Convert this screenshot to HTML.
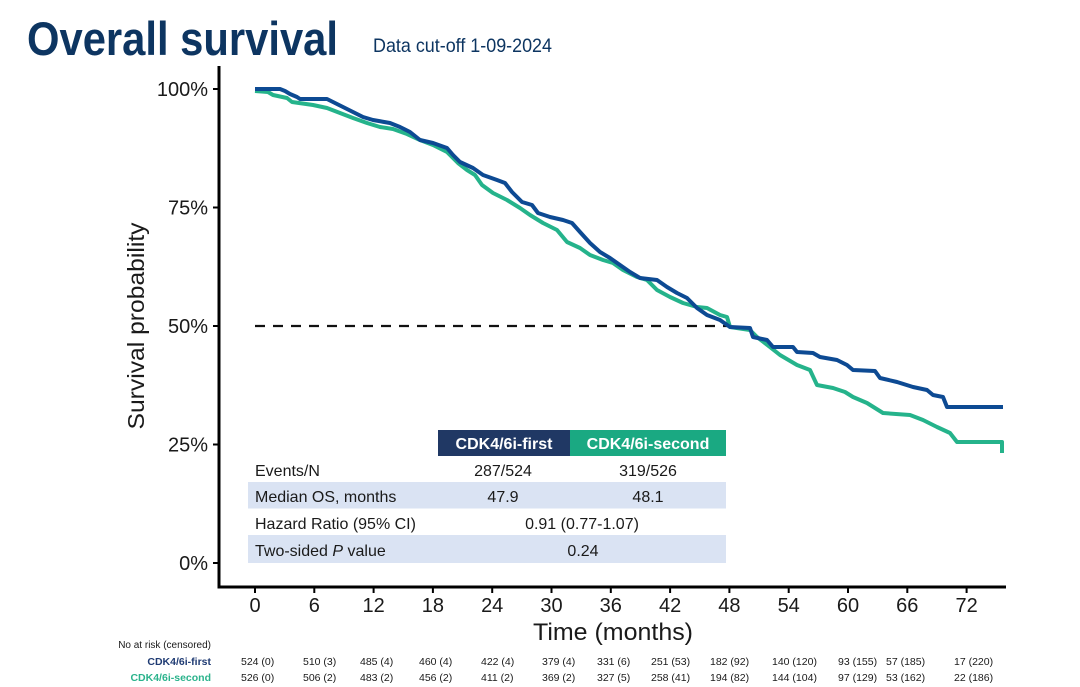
<!DOCTYPE html>
<html><head><meta charset="utf-8"><style>
html,body{margin:0;padding:0;background:#fff;}
svg{display:block;}
text{font-family:"Liberation Sans",Arial,sans-serif;}
</style></head><body>
<svg width="1080" height="687" viewBox="0 0 1080 687" xmlns="http://www.w3.org/2000/svg">
<rect width="1080" height="687" fill="#fff"/>
<!-- Title -->
<text x="27" y="55" font-size="47" font-weight="bold" fill="#0d3561" textLength="311" lengthAdjust="spacingAndGlyphs">Overall survival</text>
<text x="373" y="52" font-size="19.5" fill="#0d3561" textLength="179" lengthAdjust="spacingAndGlyphs">Data cut-off 1-09-2024</text>

<!-- Table shading -->
<rect x="248" y="482" width="478" height="26.5" fill="#dae3f3"/>
<rect x="248" y="535" width="478" height="28" fill="#dae3f3"/>
<rect x="438" y="430" width="132" height="26" fill="#203864"/>
<rect x="570" y="430" width="156" height="26" fill="#1aa982"/>
<text x="504" y="449" font-size="16" font-weight="bold" fill="#fff" text-anchor="middle">CDK4/6i-first</text>
<text x="648" y="449" font-size="16" font-weight="bold" fill="#fff" text-anchor="middle">CDK4/6i-second</text>
<g font-size="16" fill="#1a1a1a">
<text x="255" y="476">Events/N</text>
<text x="503" y="476" text-anchor="middle">287/524</text>
<text x="648" y="476" text-anchor="middle">319/526</text>
<text x="255" y="502">Median OS, months</text>
<text x="503" y="502" text-anchor="middle">47.9</text>
<text x="648" y="502" text-anchor="middle">48.1</text>
<text x="255" y="529">Hazard Ratio (95% CI)</text>
<text x="582" y="529" text-anchor="middle">0.91 (0.77-1.07)</text>
<text x="255" y="556">Two-sided <tspan font-style="italic">P</tspan> value</text>
<text x="583" y="556" text-anchor="middle">0.24</text>
</g>

<!-- dashed median line -->
<line x1="255" y1="326" x2="730" y2="326" stroke="#111" stroke-width="2.2" stroke-dasharray="10,8"/>

<!-- curves -->
<polyline fill="none" stroke="#25b38b" stroke-width="4" stroke-linejoin="round" points="255,91 268,92 273,95 287,98 292,102 313,105 327,108 340,113 353,118 367,123 380,127 393,129 407,134 420,140 433,145 447,152 458,163 467,170 475,175 482,185 493,193 507,200 520,208 530,215 543,223 557,230 567,242 580,248 590,255 603,260 613,263 623,270 637,277 647,280 657,290 670,297 683,303 697,307 707,308 720,315 727,317 730,327 750,330 757,337 770,347 780,355 797,365 810,370 817,385 833,388 845,392 853,397 867,403 883,413 910,415 923,420 937,427 950,433 957,442 1002,442 1002,453"/>
<polyline fill="none" stroke="#0d4a93" stroke-width="4" stroke-linejoin="round" points="255,89 280,89 285,91 290,94 297,97 300,99 327,99 333,102 343,107 353,112 363,117 373,120 390,123 400,127 410,132 420,140 433,143 447,148 453,155 460,162 473,168 483,175 497,180 505,183 512,192 522,202 532,205 538,213 550,217 563,220 572,223 580,232 590,243 600,252 610,258 620,265 630,272 640,278 657,280 667,287 677,293 687,298 697,308 707,315 720,320 730,327 750,328 753,337 767,340 773,347 793,347 797,352 813,353 820,357 837,360 847,365 853,370 875,371 880,378 897,382 913,387 927,390 933,395 943,397 947,407 1003,407"/>

<!-- axes -->
<line x1="219" y1="66" x2="219" y2="588.5" stroke="#000" stroke-width="3"/>
<line x1="217.5" y1="587" x2="1006" y2="587" stroke="#000" stroke-width="3"/>
<g stroke="#000" stroke-width="2">
<line x1="213" y1="89" x2="219" y2="89"/>
<line x1="213" y1="207.5" x2="219" y2="207.5"/>
<line x1="213" y1="326" x2="219" y2="326"/>
<line x1="213" y1="444.5" x2="219" y2="444.5"/>
<line x1="213" y1="563" x2="219" y2="563"/>
<line x1="255" y1="587" x2="255" y2="593"/>
<line x1="314.3" y1="587" x2="314.3" y2="593"/>
<line x1="373.6" y1="587" x2="373.6" y2="593"/>
<line x1="432.9" y1="587" x2="432.9" y2="593"/>
<line x1="492.2" y1="587" x2="492.2" y2="593"/>
<line x1="551.5" y1="587" x2="551.5" y2="593"/>
<line x1="610.8" y1="587" x2="610.8" y2="593"/>
<line x1="670.1" y1="587" x2="670.1" y2="593"/>
<line x1="729.4" y1="587" x2="729.4" y2="593"/>
<line x1="788.7" y1="587" x2="788.7" y2="593"/>
<line x1="848" y1="587" x2="848" y2="593"/>
<line x1="907.3" y1="587" x2="907.3" y2="593"/>
<line x1="966.6" y1="587" x2="966.6" y2="593"/>
</g>
<g font-size="20" fill="#1a1a1a" text-anchor="end">
<text x="208" y="96">100%</text>
<text x="208" y="214.5">75%</text>
<text x="208" y="333">50%</text>
<text x="208" y="451.5">25%</text>
<text x="208" y="570">0%</text>
</g>
<g font-size="20" fill="#1a1a1a" text-anchor="middle">
<text x="255" y="612">0</text>
<text x="314.3" y="612">6</text>
<text x="373.6" y="612">12</text>
<text x="432.9" y="612">18</text>
<text x="492.2" y="612">24</text>
<text x="551.5" y="612">30</text>
<text x="610.8" y="612">36</text>
<text x="670.1" y="612">42</text>
<text x="729.4" y="612">48</text>
<text x="788.7" y="612">54</text>
<text x="848" y="612">60</text>
<text x="907.3" y="612">66</text>
<text x="966.6" y="612">72</text>
</g>
<text x="533" y="640" font-size="24" fill="#1a1a1a" textLength="160" lengthAdjust="spacingAndGlyphs">Time (months)</text>
<text transform="translate(144,326) rotate(-90)" x="0" y="0" font-size="23" fill="#1a1a1a" text-anchor="middle" textLength="207" lengthAdjust="spacingAndGlyphs">Survival probability</text>

<!-- at risk -->
<text x="211" y="648" font-size="10" fill="#1a1a1a" text-anchor="end">No at risk (censored)</text>
<text x="211" y="665" font-size="10.5" font-weight="bold" fill="#1f3b73" text-anchor="end">CDK4/6i-first</text>
<text x="211" y="681" font-size="10.5" font-weight="bold" fill="#2bb38c" text-anchor="end">CDK4/6i-second</text>
<g font-size="10.5" fill="#1a1a1a">
<text x="241" y="665">524 (0)</text>
<text x="303" y="665">510 (3)</text>
<text x="360" y="665">485 (4)</text>
<text x="419" y="665">460 (4)</text>
<text x="481" y="665">422 (4)</text>
<text x="542" y="665">379 (4)</text>
<text x="597" y="665">331 (6)</text>
<text x="651" y="665">251 (53)</text>
<text x="710" y="665">182 (92)</text>
<text x="772" y="665">140 (120)</text>
<text x="838" y="665">93 (155)</text>
<text x="886" y="665">57 (185)</text>
<text x="954" y="665">17 (220)</text>
<text x="241" y="681">526 (0)</text>
<text x="303" y="681">506 (2)</text>
<text x="360" y="681">483 (2)</text>
<text x="419" y="681">456 (2)</text>
<text x="481" y="681">411 (2)</text>
<text x="542" y="681">369 (2)</text>
<text x="597" y="681">327 (5)</text>
<text x="651" y="681">258 (41)</text>
<text x="710" y="681">194 (82)</text>
<text x="772" y="681">144 (104)</text>
<text x="838" y="681">97 (129)</text>
<text x="886" y="681">53 (162)</text>
<text x="954" y="681">22 (186)</text>
</g>
</svg>
</body></html>
